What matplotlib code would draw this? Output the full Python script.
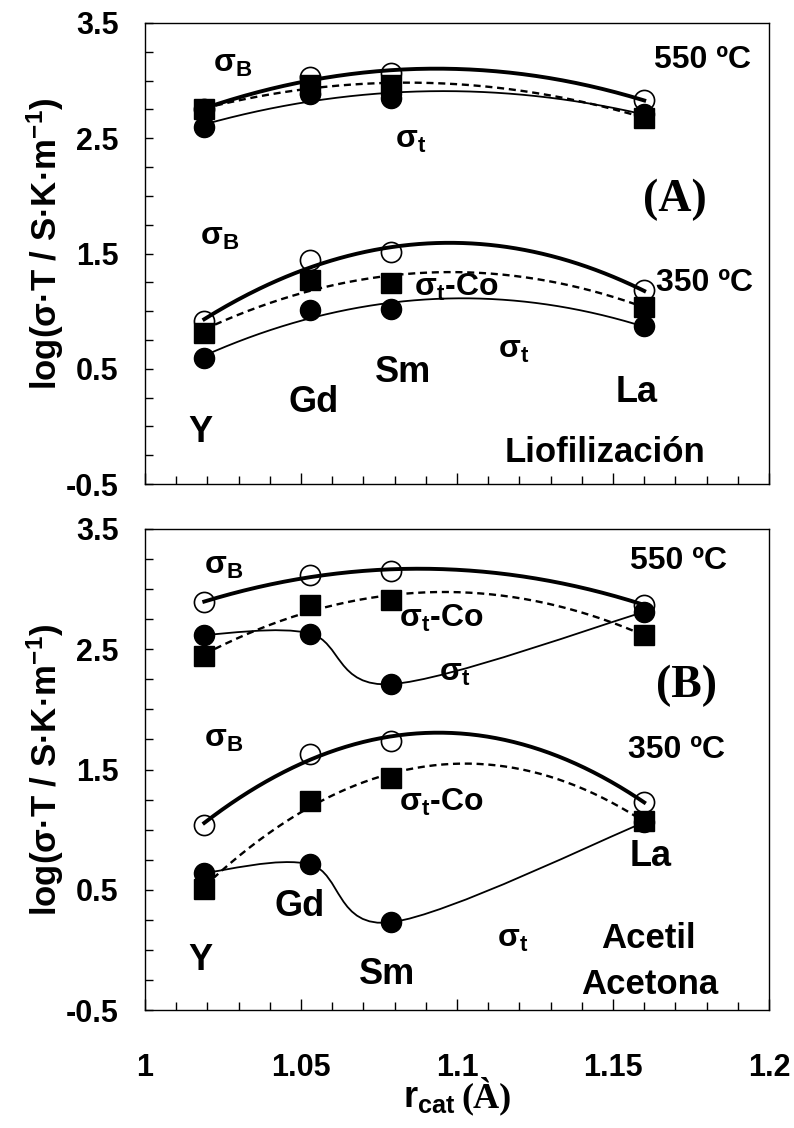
import numpy as np
import matplotlib
matplotlib.use('Agg')
import matplotlib.pyplot as plt
from matplotlib.path import Path
from matplotlib.patches import PathPatch
from matplotlib.ticker import FixedLocator, FixedFormatter, MultipleLocator, NullFormatter

plt.rcParams['font.family'] = ['Liberation Sans', 'DejaVu Sans']
plt.rcParams['font.weight'] = 'bold'
plt.rcParams['mathtext.fontset'] = 'custom'
plt.rcParams['mathtext.rm'] = 'Liberation Sans:bold'
plt.rcParams['mathtext.it'] = 'Liberation Sans:bold'
plt.rcParams['mathtext.bf'] = 'Liberation Sans:bold'
plt.rcParams['mathtext.sf'] = 'Liberation Sans:bold'
plt.rcParams['axes.unicode_minus'] = False

# ionic radius of the cation (Angstrom)
cations = ['Y', 'Gd', 'Sm', 'La']
radius = [1.019, 1.053, 1.079, 1.160]

# (A) Liofilizacion
a550_sB = [2.75, 3.03, 3.07, 2.83]
a550_stCo = [2.75, 2.96, 2.96, 2.68]
a550_st = [2.60, 2.88, 2.85, 2.71]
a350_sB = [0.91, 1.44, 1.51, 1.18]
a350_stCo = [0.81, 1.27, 1.24, 1.04]
a350_st = [0.59, 1.01, 1.02, 0.87]

# (B) Acetil Acetona
b550_sB = [2.89, 3.12, 3.15, 2.87]
b550_stCo = [2.44, 2.87, 2.91, 2.62]
b550_st = [2.62, 2.63, 2.21, 2.81]
b350_sB = [1.04, 1.63, 1.74, 1.23]
b350_stCo = [0.51, 1.24, 1.43, 1.07]
b350_st = [0.64, 0.71, 0.23, 1.06]

x_ticks = [1.0, 1.05, 1.1, 1.15, 1.2]
x_ticklabels = ['1', '1.05', '1.1', '1.15', '1.2']
y_ticks = [-0.5, 0.5, 1.5, 2.5, 3.5]
y_ticklabels = ['-0.5', '0.5', '1.5', '2.5', '3.5']

W, H = 794, 1128
fig = plt.figure(figsize=(W / 100, H / 100), dpi=100)


def trend(ax, y, **kw):
    # second order trendline through the four points
    c = np.polyfit(radius, y, 2)
    xs = np.linspace(radius[0], radius[-1], 200)
    ax.plot(xs, np.polyval(c, xs), color='k', zorder=2, **kw)


def smooth(ax, y, **kw):
    # smoothed line through the points (bezier, catmull-rom tangents)
    p = np.column_stack([radius, y])
    n = len(p)
    verts = [p[0]]
    codes = [Path.MOVETO]
    for i in range(n - 1):
        p0 = p[max(i - 1, 0)]
        p1 = p[i]
        p2 = p[i + 1]
        p3 = p[min(i + 2, n - 1)]
        verts += [p1 + (p2 - p0) / 6, p2 - (p3 - p1) / 6, p2]
        codes += [Path.CURVE4] * 3
    ax.add_patch(PathPatch(Path(verts, codes), fill=False, edgecolor='k', zorder=2, **kw))


def markers(ax, sB, stCo, st):
    ax.plot(radius, sB, 'o', ms=14.5, mfc='none', mec='k', mew=1.2, zorder=3)
    ax.plot(radius, stCo, 's', ms=14, color='k', zorder=4)
    ax.plot(radius, st, 'o', ms=14.5, color='k', zorder=4)


def setup(ax, show_x):
    ax.set_xlim(1.0, 1.2)
    ax.set_ylim(-0.5, 3.5)
    ax.xaxis.set_major_locator(FixedLocator(x_ticks))
    ax.xaxis.set_minor_locator(MultipleLocator(0.01))
    ax.yaxis.set_major_locator(FixedLocator(y_ticks))
    ax.yaxis.set_major_formatter(FixedFormatter(y_ticklabels))
    ax.yaxis.set_minor_locator(MultipleLocator(0.25))
    if show_x:
        ax.xaxis.set_major_formatter(FixedFormatter(x_ticklabels))
    else:
        ax.xaxis.set_major_formatter(NullFormatter())
    ax.tick_params(axis='x', which='major', direction='in', length=8, width=1, pad=31, labelsize=22)
    ax.tick_params(axis='x', which='minor', direction='in', length=5.5, width=1)
    ax.tick_params(axis='y', which='both', direction='in', length=6, width=1, pad=19, labelsize=22)
    for s in ax.spines.values():
        s.set_linewidth(1.0)
    for lab in ax.get_xticklabels() + ax.get_yticklabels():
        lab.set_fontweight('bold')


def label(ax, top_px, bot_px, px, py, txt, size=23, **kw):
    fx = (px - 145) / 624
    fy = (bot_px - py) / (bot_px - top_px)
    ax.text(fx, fy, txt, transform=ax.transAxes, ha='center', va='center',
            fontsize=size, fontweight='bold', **kw)


ylab = 'log(σ·T / S·K·m$^{-1}$)'

# ---------- panel A ----------
axA = fig.add_axes([145 / W, 1 - 484 / H, 624 / W, 461 / H])
setup(axA, False)
trend(axA, a550_sB, lw=2.8)
trend(axA, a550_stCo, lw=1.7, ls=(0, (3, 2)))
trend(axA, a550_st, lw=1.3)
trend(axA, a350_sB, lw=2.8)
trend(axA, a350_stCo, lw=1.7, ls=(0, (3, 2)))
trend(axA, a350_st, lw=1.3)
markers(axA, a550_sB, a550_stCo, a550_st)
markers(axA, a350_sB, a350_stCo, a350_st)

tA = lambda px, py, txt, **kw: label(axA, 23, 484, px, py, txt, **kw)
tA(233, 64, 'σ$_{\\rm B}$')
tA(702, 60, '550 ºC')
tA(411, 140, 'σ$_{\\rm t}$')
tA(675, 200, '(A)', size=33, family='Liberation Serif')
tA(220, 237, 'σ$_{\\rm B}$')
tA(456, 287, 'σ$_{\\rm t}$-Co')
tA(704, 283, '350 ºC')
tA(514, 350, 'σ$_{\\rm t}$')
tA(200, 432, 'Y', size=26)
tA(314, 403, 'Gd', size=26)
tA(403, 373, 'Sm', size=26)
tA(637, 393, 'La', size=26)
tA(605, 453, 'Liofilización', size=25)
axA.text(-0.16, 0.52, ylab, transform=axA.transAxes, rotation=90,
         ha='center', va='center', fontsize=25, fontweight='bold')

# ---------- panel B ----------
axB = fig.add_axes([145 / W, 1 - 1010 / H, 624 / W, 481 / H])
setup(axB, True)
trend(axB, b550_sB, lw=2.8)
trend(axB, b550_stCo, lw=1.7, ls=(0, (3, 2)))
smooth(axB, b550_st, lw=1.3)
trend(axB, b350_sB, lw=2.8)
trend(axB, b350_stCo, lw=1.7, ls=(0, (3, 2)))
smooth(axB, b350_st, lw=1.3)
markers(axB, b550_sB, b550_stCo, b550_st)
markers(axB, b350_sB, b350_stCo, b350_st)

tB = lambda px, py, txt, **kw: label(axB, 529, 1010, px, py, txt, **kw)
tB(224, 566, 'σ$_{\\rm B}$')
tB(678, 561, '550 ºC')
tB(441, 618, 'σ$_{\\rm t}$-Co')
tB(455, 673, 'σ$_{\\rm t}$')
tB(687, 686, '(B)', size=33, family='Liberation Serif')
tB(224, 739, 'σ$_{\\rm B}$')
tB(676, 750, '350 ºC')
tB(441, 802, 'σ$_{\\rm t}$-Co')
tB(651, 857, 'La', size=26)
tB(300, 907, 'Gd', size=26)
tB(513, 939, 'σ$_{\\rm t}$')
tB(648, 939, 'Acetil', size=25)
tB(200, 961, 'Y', size=26)
tB(387, 975, 'Sm', size=26)
tB(650, 984, 'Acetona', size=25)
axB.text(-0.16, 0.5, ylab, transform=axB.transAxes, rotation=90,
         ha='center', va='center', fontsize=25, fontweight='bold')

# x axis title
fig.text(456 / W, 1 - 1107 / H, 'r$_{\\rm cat}$', ha='right', va='baseline',
         fontsize=26, fontweight='bold')
fig.text(461 / W, 1 - 1107 / H, '(À)', ha='left', va='baseline',
         fontsize=26, fontweight='bold', family='Liberation Serif')

fig.savefig('out.png', dpi=100)
